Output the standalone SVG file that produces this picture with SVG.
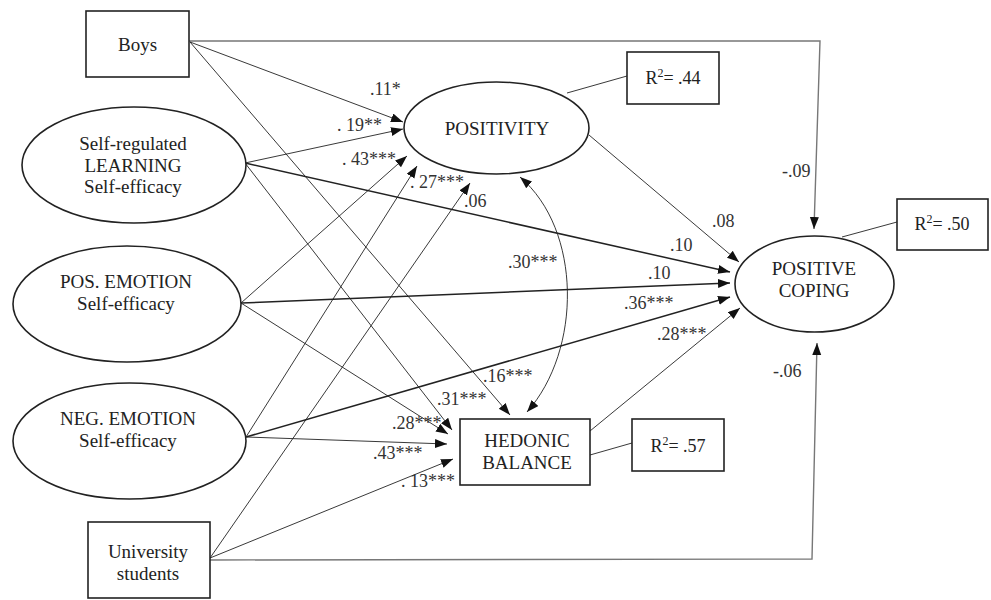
<svg xmlns="http://www.w3.org/2000/svg" width="991" height="600" viewBox="0 0 991 600">
<defs>
<marker id="ah" markerUnits="userSpaceOnUse" markerWidth="13" markerHeight="10" refX="12" refY="4.5" orient="auto-start-reverse">
<path d="M0,0 L12,4.5 L0,9 z" fill="#111"/>
</marker>
<style>
.box{fill:#fff;stroke:#222;stroke-width:1.6}
.el{fill:#fff;stroke:#222;stroke-width:1.6}
.nt{font-family:"Liberation Serif","Times New Roman",serif;font-size:19px;fill:#222;text-anchor:middle}
.lb{font-family:"Liberation Serif","Times New Roman",serif;font-size:18px;fill:#333}
.rt{font-family:"Liberation Serif","Times New Roman",serif;font-size:18px;fill:#222;text-anchor:middle}
.c{fill:none;stroke:#222;stroke-width:0.9}
.ca{fill:none;stroke:#222;stroke-width:0.9;marker-end:url(#ah)}
.ct{fill:none;stroke:#222;stroke-width:1.5;marker-end:url(#ah)}
.cg{fill:none;stroke:#777;stroke-width:1.4;marker-end:url(#ah)}
</style>
</defs>
<rect width="991" height="600" fill="#fff"/>

<g id="connectors">
<polyline class="cg" points="189,41 820,41 814,229"/>
<line class="ca" x1="190" y1="42" x2="403" y2="122"/>
<line class="ca" x1="190" y1="42" x2="510" y2="415"/>
<line class="ca" x1="245" y1="163" x2="403" y2="129"/>
<line class="ct" x1="245" y1="163" x2="730" y2="272"/>
<line class="ca" x1="245" y1="163" x2="452" y2="430"/>
<line class="ca" x1="241" y1="303" x2="407" y2="156"/>
<line class="ct" x1="241" y1="303" x2="730" y2="283"/>
<line class="ca" x1="241" y1="303" x2="448" y2="434"/>
<line class="ca" x1="246" y1="437" x2="417" y2="166"/>
<line class="ct" x1="246" y1="437" x2="730" y2="297"/>
<line class="ca" x1="246" y1="437" x2="447" y2="444"/>
<line class="ca" x1="210" y1="558" x2="470" y2="183"/>
<line class="ca" x1="210" y1="558" x2="453" y2="459"/>
<polyline class="cg" points="210,560 812,559 817,343"/>
<line class="ca" x1="589" y1="135" x2="739" y2="262"/>
<line class="ca" x1="590" y1="431" x2="740" y2="308"/>
<path class="ca" style="marker-start:url(#ah)" d="M520,177 C582,230 582,350 527,412"/>
<line class="c" x1="567" y1="93" x2="627" y2="76"/>
<line class="c" x1="842" y1="237" x2="897" y2="222"/>
<line class="c" x1="590" y1="455" x2="632" y2="443"/>
</g>

<g id="boys">
<rect class="box" x="86" y="11" width="103" height="66"/>
<text class="nt" x="137.5" y="51">Boys</text>
</g>
<g id="srl">
<ellipse class="el" cx="134" cy="165" rx="112" ry="58"/>
<text class="nt" x="133" y="150">Self-regulated</text>
<text class="nt" x="133" y="172">LEARNING</text>
<text class="nt" x="133" y="193">Self-efficacy</text>
</g>
<g id="posemo">
<ellipse class="el" cx="127" cy="304" rx="114" ry="58"/>
<text class="nt" x="126" y="288">POS. EMOTION</text>
<text class="nt" x="126" y="310">Self-efficacy</text>
</g>
<g id="negemo">
<ellipse class="el" cx="129.5" cy="441" rx="116.5" ry="58"/>
<text class="nt" x="128" y="425">NEG. EMOTION</text>
<text class="nt" x="128" y="447">Self-efficacy</text>
</g>
<g id="university">
<rect class="box" x="88" y="522" width="122" height="76"/>
<text class="nt" x="148" y="558">University</text>
<text class="nt" x="148" y="580">students</text>
</g>
<g id="positivity">
<ellipse class="el" cx="496.5" cy="128" rx="92.5" ry="46"/>
<text class="nt" x="497" y="135">POSITIVITY</text>
</g>
<g id="r2-positivity">
<rect class="box" x="627" y="52" width="92" height="52"/>
<text class="rt" x="673" y="84">R<tspan font-size="12" dy="-7">2</tspan><tspan dy="7">= .44</tspan></text>
</g>
<g id="coping">
<ellipse class="el" cx="814.5" cy="284" rx="79.5" ry="48"/>
<text class="nt" x="814" y="275">POSITIVE</text>
<text class="nt" x="814" y="297">COPING</text>
</g>
<g id="r2-coping">
<rect class="box" x="897" y="199" width="91" height="51"/>
<text class="rt" x="942" y="230">R<tspan font-size="12" dy="-7">2</tspan><tspan dy="7">= .50</tspan></text>
</g>
<g id="hedonic">
<rect class="box" x="460" y="419" width="130" height="66"/>
<text class="nt" x="527" y="447">HEDONIC</text>
<text class="nt" x="527" y="469">BALANCE</text>
</g>
<g id="r2-hedonic">
<rect class="box" x="632" y="419" width="92" height="52"/>
<text class="rt" x="678" y="452">R<tspan font-size="12" dy="-7">2</tspan><tspan dy="7">= .57</tspan></text>
</g>

<g id="labels">
<text class="lb" x="370" y="95">.11*</text>
<text class="lb" x="337" y="131">. 19**</text>
<text class="lb" x="342" y="165">. 43***</text>
<text class="lb" x="410" y="188">. 27***</text>
<text class="lb" x="464" y="207">.06</text>
<text class="lb" x="670" y="251">.10</text>
<text class="lb" x="648" y="279">.10</text>
<text class="lb" x="624" y="309">.36***</text>
<text class="lb" x="657" y="340">.28***</text>
<text class="lb" x="712" y="227">.08</text>
<text class="lb" x="782" y="177">-.09</text>
<text class="lb" x="773" y="377">-.06</text>
<text class="lb" x="508" y="268">.30***</text>
<text class="lb" x="483" y="382">.16***</text>
<text class="lb" x="437" y="405">.31***</text>
<text class="lb" x="392" y="429">.28***</text>
<text class="lb" x="373" y="459">.43***</text>
<text class="lb" x="401" y="487">. 13***</text>
</g>
</svg>
